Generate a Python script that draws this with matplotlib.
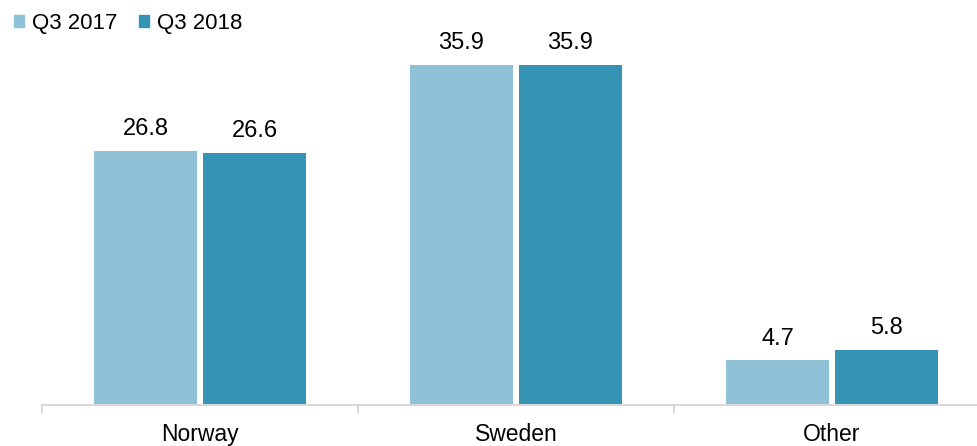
import matplotlib.pyplot as plt
import numpy as np
from matplotlib.patches import Patch

plt.rcParams['font.family'] = ['Liberation Sans', 'DejaVu Sans']

regions = ['Norway', 'Sweden', 'Other']
q3_2017 = [26.8, 35.9, 4.7]
q3_2018 = [26.6, 35.9, 5.8]
series_names = ['Q3 2017', 'Q3 2018']
colors = ['#8FC1D7', '#3594B4']

fig = plt.figure(figsize=(9.78, 4.46), dpi=100)
ax = fig.add_axes([42 / 978, 1 - 405 / 446, 948 / 978, 405 / 446])

x = np.arange(len(regions))
w = 0.326
gap = 0.019
b1 = ax.bar(x - (w + gap) / 2, q3_2017, w, color=colors[0])
b2 = ax.bar(x + (w + gap) / 2, q3_2018, w, color=colors[1])

for bars in (b1, b2):
    for rect in bars:
        h = rect.get_height()
        ax.annotate(f'{h:.1f}', (rect.get_x() + rect.get_width() / 2, h),
                    xytext=(0, 11.5), textcoords='offset points',
                    ha='center', va='baseline', fontsize=17)

ax.set_xlim(-0.5, len(regions) - 0.5)
ax.set_ylim(0, 405 / (340 / 35.9))
ax.set_yticks([])
for s in ('top', 'right', 'left'):
    ax.spines[s].set_visible(False)
ax.spines['bottom'].set_color('#D9D9D9')
ax.spines['bottom'].set_linewidth(1.5)

ax.set_xticks(x)
ax.set_xticklabels(regions, fontsize=16.5)
ax.tick_params(axis='x', which='major', length=0, pad=13)
ax.set_xticks(np.arange(len(regions) + 1) - 0.5, minor=True)
ax.tick_params(axis='x', which='minor', length=6, width=1.5, color='#D9D9D9')

handles = [Patch(color=c) for c in colors]
fig.legend(handles, series_names, loc='upper left', bbox_to_anchor=(0.005, 0.991),
           ncol=2, frameon=False, fontsize=16, handlelength=0.45, handleheight=0.45,
           handletextpad=0.35, columnspacing=1.0, borderaxespad=0)

fig.savefig('out.png', dpi=100)
